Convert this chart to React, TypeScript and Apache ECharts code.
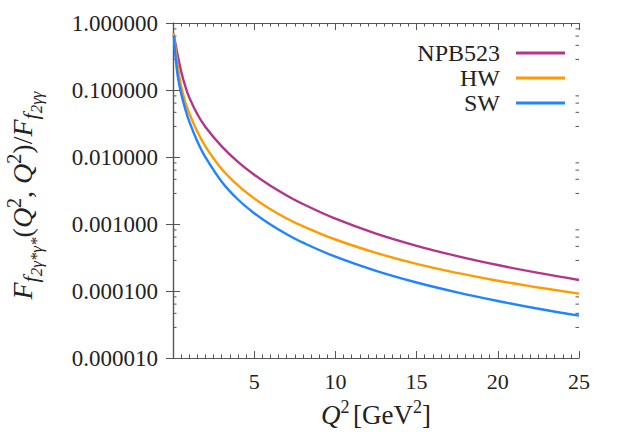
import React, { useEffect, useRef } from "react";
import * as echarts from "echarts";

const q2 = [0.05, 0.15, 0.3, 0.5, 0.75, 1, 1.5, 2, 3, 4, 5, 6, 7, 8, 10, 12.5, 15, 17.5, 20, 22.5, 25];
const npb523 = [0.665, 0.49, 0.318, 0.191, 0.115, 0.0776, 0.0435, 0.0281, 0.0144, 0.00844, 0.00543, 0.00372, 0.00267, 0.00199, 0.0012, 0.000719, 0.000473, 0.000332, 0.000244, 0.000186, 0.000146];
const hw = [0.708, 0.419, 0.22, 0.115, 0.0668, 0.0449, 0.0238, 0.0143, 0.00661, 0.00376, 0.00241, 0.00166, 0.00121, 0.000927, 0.000587, 0.000371, 0.000254, 0.000186, 0.000142, 0.000113, 0.0000912];
const sw = [0.647, 0.324, 0.157, 0.089, 0.0527, 0.034, 0.0171, 0.00991, 0.00428, 0.00232, 0.00145, 0.00098, 0.000703, 0.000527, 0.000325, 0.0002, 0.000134, 0.0000955, 0.000071, 0.0000543, 0.0000429];

const seriesNames = ["NPB523", "HW", "SW"];
const seriesColors = ["#b3348b", "#ff9a00", "#1f84ff"];
const xTickLabels = ["5", "10", "15", "20", "25"];
// minor tick values on the log axis (as drawn in the reference: four per decade)
const yMinorTicks = [
  0.817, 0.637, 0.464, 0.286,
  0.0817, 0.0637, 0.0464, 0.0286,
  0.00817, 0.00637, 0.00464, 0.00286,
  0.000817, 0.000637, 0.000464, 0.000286,
  0.0000817, 0.0000637, 0.0000464, 0.0000286,
];

const FONT = "'Liberation Serif', 'DejaVu Serif', serif";
const AXIS_COLOR = "#555555";
const TEXT_COLOR = "#222222";

export default function App() {
  const ref = useRef<HTMLDivElement>(null);
  useEffect(() => {
    if (!ref.current) return;
    const chart = echarts.init(ref.current, null, { renderer: "svg" });
    const seriesData = [npb523, hw, sw];
    const axisCommon = {
      axisLine: { show: true, lineStyle: { color: AXIS_COLOR, width: 1.2 } },
      axisTick: { show: true, inside: true, length: 7, lineStyle: { color: AXIS_COLOR, width: 1 } },
      splitLine: { show: false },
    };
    const xCommon = {
      type: "value",
      min: 0,
      max: 25,
      interval: 5,
      ...axisCommon,
      minorTick: { show: true, splitNumber: 10, length: 3.5, lineStyle: { color: AXIS_COLOR, width: 1 } },
    };
    const yCommon = {
      type: "log",
      logBase: 10,
      min: 0.00001,
      max: 1,
      ...axisCommon,
      minorTick: { show: false },
    };
    // y-axis title rich styles
    const yMain = { fontFamily: FONT, fontSize: 28, fontStyle: "italic", color: TEXT_COLOR, lineHeight: 46, verticalAlign: "middle" };
    const yRom = { fontFamily: FONT, fontSize: 28, color: TEXT_COLOR, lineHeight: 46, verticalAlign: "middle" };
    const ySub = { fontFamily: FONT, fontSize: 22, fontStyle: "italic", color: TEXT_COLOR, lineHeight: 22, verticalAlign: "bottom", padding: [0, 0, 4, 0] };
    const ySubSub = { fontFamily: FONT, fontSize: 17, fontStyle: "italic", color: TEXT_COLOR, lineHeight: 17, verticalAlign: "bottom", padding: [0, 0, 0, 0] };
    const ySup = { fontFamily: FONT, fontSize: 20, color: TEXT_COLOR, lineHeight: 20, verticalAlign: "top", padding: [5, 0, 0, 0] };
    // x-axis title rich styles
    const xMain = { fontFamily: FONT, fontSize: 27, fontStyle: "italic", color: TEXT_COLOR, lineHeight: 36, verticalAlign: "middle" };
    const xRom = { fontFamily: FONT, fontSize: 27, color: TEXT_COLOR, lineHeight: 36, verticalAlign: "middle" };
    const xSup = { fontFamily: FONT, fontSize: 18, color: TEXT_COLOR, lineHeight: 18, verticalAlign: "top", padding: [1, 0, 0, 0] };
    chart.setOption({
      animation: false,
      backgroundColor: "#ffffff",
      grid: { left: 173, right: 43, top: 23, bottom: 77, outerBoundsMode: "none" },
      legend: {
        data: seriesNames,
        orient: "vertical",
        right: 52,
        top: 36,
        align: "right",
        icon: "rect",
        itemWidth: 49,
        itemHeight: 3,
        itemGap: 1,
        textStyle: { fontFamily: FONT, fontSize: 24, color: TEXT_COLOR, lineHeight: 23, padding: [0, 11, 0, 0] },
      },
      xAxis: [
        {
          ...xCommon,
          position: "bottom",
          axisLabel: {
            show: true,
            fontFamily: FONT,
            fontSize: 22,
            color: TEXT_COLOR,
            margin: 12,
            formatter: (v: number) => {
              const s = String(v);
              return xTickLabels.indexOf(s) >= 0 ? s : "";
            },
          },
          name: "{i|Q}{p|2} {r|[GeV}{p|2}{r|]}",
          nameLocation: "middle",
          nameGap: 37,
          nameTextStyle: { rich: { i: xMain, r: xRom, p: xSup } },
        },
        { ...xCommon, position: "top", axisLabel: { show: false } },
      ],
      yAxis: [
        {
          ...yCommon,
          position: "left",
          axisLabel: {
            show: true,
            fontFamily: FONT,
            fontSize: 23,
            color: TEXT_COLOR,
            margin: 15,
            formatter: (v: number) => v.toFixed(6),
          },
          name: "{F|F}{s|f}{ss|2γ*γ*}{r|(}{F|Q}{p|2}{r|, }{F|Q}{p|2}{r|)/}{F|F}{s|f}{ss|2γγ}",
          nameLocation: "middle",
          nameRotate: 90,
          nameGap: 128,
          nameTextStyle: { padding: [0, 10, 0, 0], rich: { F: yMain, r: yRom, s: ySub, ss: ySubSub, p: ySup } },
        },
        { ...yCommon, position: "right", axisLabel: { show: false } },
      ],
      series: [
        ...seriesNames.map((name, i) => ({
          name,
          type: "line",
          xAxisIndex: 0,
          yAxisIndex: 0,
          data: q2.map((x, j) => [x, seriesData[i][j]]),
          showSymbol: false,
          symbol: "none",
          smooth: 0.4,
          lineStyle: { color: seriesColors[i], width: 2.4 },
          itemStyle: { color: seriesColors[i] },
        })),
        {
          name: "yMinorTicks",
          type: "custom",
          xAxisIndex: 0,
          yAxisIndex: 0,
          silent: true,
          clip: false,
          data: yMinorTicks.map((v) => [0, v]),
          encode: { x: 0, y: 1 },
          renderItem: (_params: any, api: any) => {
            const v = api.value(1);
            const pl = api.coord([0, v]);
            const pr = api.coord([25, v]);
            const st = { stroke: AXIS_COLOR, lineWidth: 1 };
            return {
              type: "group",
              children: [
                { type: "line", shape: { x1: pl[0], y1: pl[1], x2: pl[0] + 3.5, y2: pl[1] }, style: st },
                { type: "line", shape: { x1: pr[0], y1: pr[1], x2: pr[0] - 3.5, y2: pr[1] }, style: st },
              ],
            };
          },
        },
      ],
    });
    return () => chart.dispose();
  }, []);
  return <div ref={ref} style={{ position: "fixed", left: 0, top: 0, width: 622, height: 435 }} />;
}
